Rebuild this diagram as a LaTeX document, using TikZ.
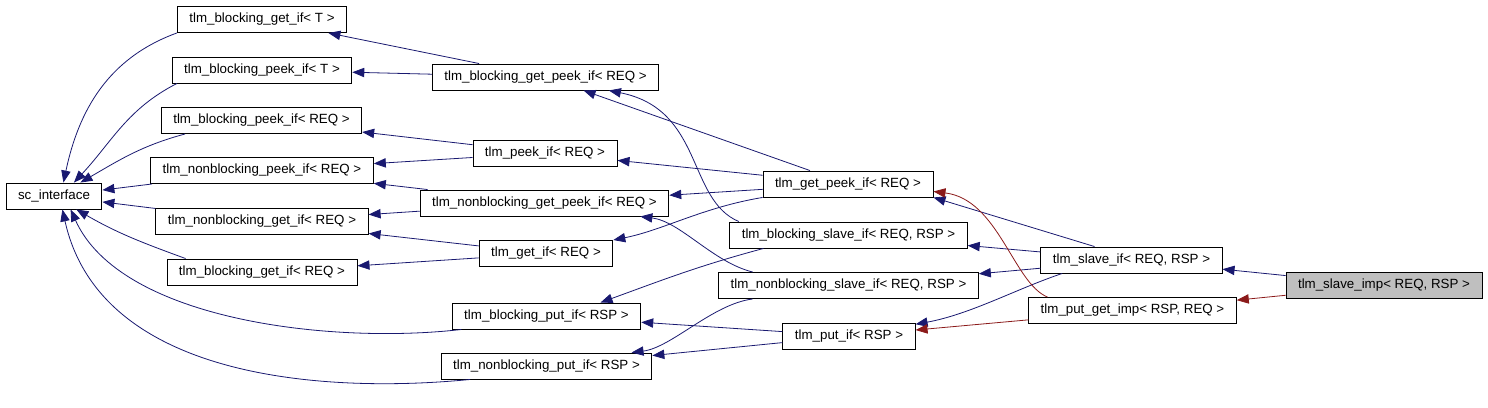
\documentclass[tikz,border=0pt]{standalone}
\usepackage{fontspec}
\setmainfont{Liberation Sans}
\usepackage{tikz}
\usetikzlibrary{arrows.meta}

\definecolor{inhblue}{HTML}{191970}
\definecolor{inhred}{HTML}{8B1A1A}

\begin{document}
\begin{tikzpicture}[
    x=0.75pt, y=-0.75pt,
    every node/.style={font=\fontsize{10}{12}\selectfont},
    cls/.style={draw, fill=white, line width=0.7pt, inner xsep=9pt, inner ysep=0pt, minimum height=19.5pt},
    cur/.style={cls, fill=black!25},
    pub/.style={-{Triangle[length=9pt, width=7pt]}, draw=inhblue, line width=0.6pt},
    priv/.style={pub, draw=inhred},
]
\useasboundingbox (0,0) rectangle (1488,407);

% === BASE ===
\node[cls] (sc) at (54,196) {sc\_interface};

% === FIRST LEVEL ===
\node[cls] (bget_t)  at (262,19.5)  {tlm\_blocking\_get\_if< T >};
\node[cls] (bpeek_t) at (262,70)    {tlm\_blocking\_peek\_if< T >};
\node[cls] (bpeek)   at (261.5,120.5) {tlm\_blocking\_peek\_if< REQ >};
\node[cls] (nbpeek)  at (262,170.5) {tlm\_nonblocking\_peek\_if< REQ >};
\node[cls] (nbget)   at (262,221.5) {tlm\_nonblocking\_get\_if< REQ >};
\node[cls] (bget)    at (262,272)   {tlm\_blocking\_get\_if< REQ >};

% === SECOND LEVEL ===
\node[cls] (bgetpeek)  at (545.5,77)  {tlm\_blocking\_get\_peek\_if< REQ >};
\node[cls] (peek)      at (545,153)   {tlm\_peek\_if< REQ >};
\node[cls] (nbgetpeek) at (544.5,203) {tlm\_nonblocking\_get\_peek\_if< REQ >};
\node[cls] (get)       at (546,253.5) {tlm\_get\_if< REQ >};
\node[cls] (bput)      at (546.5,316) {tlm\_blocking\_put\_if< RSP >};
\node[cls] (nbput)     at (546.5,366) {tlm\_nonblocking\_put\_if< RSP >};

% === THIRD LEVEL ===
\node[cls] (getpeek) at (848,184)     {tlm\_get\_peek\_if< REQ >};
\node[cls] (bslave)  at (848.5,235)   {tlm\_blocking\_slave\_if< REQ, RSP >};
\node[cls] (nbslave) at (848.5,285.5) {tlm\_nonblocking\_slave\_if< REQ, RSP >};
\node[cls] (put)     at (849,336)     {tlm\_put\_if< RSP >};

% === FOURTH LEVEL ===
\node[cls] (slave)  at (1131.5,260) {tlm\_slave\_if< REQ, RSP >};
\node[cls] (putget) at (1132.5,310.5) {tlm\_put\_get\_imp< RSP, REQ >};
\node[cur] (imp)    at (1384,285.5) {tlm\_slave\_imp< REQ, RSP >};

% edges into sc_interface
\draw[pub] (bget_t.south west) to[out=200,in=78] (sc.55);
\draw[pub] (bpeek_t.189) to[out=207,in=47] (sc.34);
\draw[pub] (bpeek.190) to[out=195,in=30] (sc.27);
\draw[pub] (nbpeek) -- (sc);
\draw[pub] (nbget) -- (sc);
\draw[pub] (bget.170) to[out=160,in=-30] (sc.329);
\draw[pub] (bput.189) .. controls +(-130,15) and +(50,111) .. (sc.321);
\draw[pub] (nbput.190) .. controls +(-143,14) and +(38,171) .. (sc.302);

% second level -> first level
\draw[pub] (bgetpeek) -- (bget_t);
\draw[pub] (bgetpeek) -- (bpeek_t);
\draw[pub] (peek) -- (bpeek);
\draw[pub] (peek) -- (nbpeek);
\draw[pub] (nbgetpeek) -- (nbpeek);
\draw[pub] (nbgetpeek) -- (nbget);
\draw[pub] (get) -- (nbget);
\draw[pub] (get) -- (bget);

% third level -> second level
\draw[pub] (getpeek) -- (bgetpeek);
\draw[pub] (getpeek) -- (peek);
\draw[pub] (getpeek) -- (nbgetpeek);
\draw[pub] (getpeek.south west) .. controls +(-60,10) and +(50,-10) .. (get.north east);
\draw[pub] (bslave.173) .. controls +(-52,-22) and +(95,19) .. (bgetpeek.348);
\draw[pub] (bslave.189) to[out=195,in=20] (bput.14);
\draw[pub] (nbslave.172) .. controls +(-40,-10) and +(40,5) .. (nbgetpeek.352);
\draw[pub] (nbslave.188) .. controls +(-40,5) and +(40,-5) .. (nbput.9);
\draw[pub] (put) -- (bput);
\draw[pub] (put) -- (nbput);

% fourth level -> third level
\draw[pub] (slave.160) -- (getpeek.south east);
\draw[pub] (slave) -- (bslave);
\draw[pub] (slave) -- (nbslave);
\draw[pub] (slave.191) .. controls +(-45,15) and +(55,-10) .. (put.10);
\draw[priv] (putget.171) .. controls +(-34,-14) and +(65,8) .. (getpeek.355);
\draw[priv] (putget) -- (put);

% the class itself
\draw[pub] (imp) -- (slave);
\draw[priv] (imp) -- (putget);

\end{tikzpicture}
\end{document}
